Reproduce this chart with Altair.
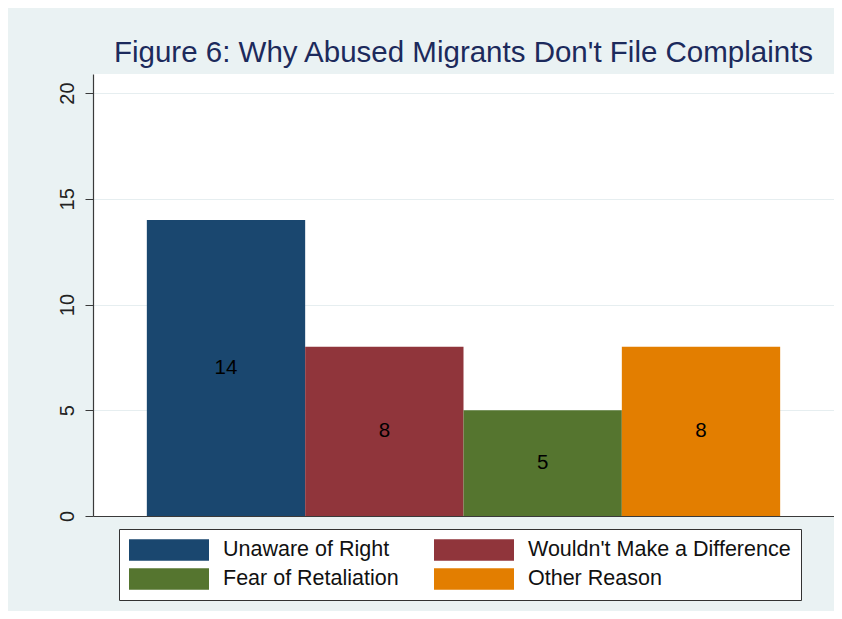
import altair as alt
import pandas as pd

categories = ["Unaware of Right", "Wouldn't Make a Difference", "Fear of Retaliation", "Other Reason"]
counts = [14, 8, 5, 8]
colors = ["#1a476f", "#90353b", "#55752f", "#e37e00"]
y_ticks = [0, 5, 10, 15, 20]
title_text = "Figure 6: Why Abused Migrants Don't File Complaints"

df = pd.DataFrame({"category": categories, "count": counts})

FONT = "Liberation Sans"

base = alt.Chart(df).encode(
    x=alt.X(
        "category:N",
        sort=categories,
        scale=alt.Scale(paddingInner=0, paddingOuter=0.34),
        axis=alt.Axis(labels=False, ticks=False, title=None, domainColor="#3a3a3a",
                      domainWidth=1.2, grid=False),
    )
)

bars = base.mark_bar(strokeWidth=0).encode(
    y=alt.Y(
        "count:Q",
        scale=alt.Scale(domain=[0, 20.9], nice=False, zero=True),
        axis=alt.Axis(
            values=y_ticks, title=None, labelAngle=270, labelAlign="center",
            labelBaseline="bottom", labelPadding=8, tickSize=8, tickColor="#3a3a3a",
            domainColor="#3a3a3a", domainWidth=1.2, labelFontSize=20, labelFont=FONT,
            labelColor="#222222", grid=True, gridColor="#e6eef0", gridWidth=1,
        ),
    ),
    color=alt.Color(
        "category:N",
        sort=categories,
        scale=alt.Scale(domain=categories, range=colors),
        legend=alt.Legend(
            orient="none", legendX=26, legendY=455, columns=2, direction="horizontal",
            title=None, symbolType="M-1,-0.269H1V0.269H-1Z", symbolSize=6400,
            symbolStrokeWidth=0, symbolOpacity=1, clipHeight=22,
            labelFont=FONT, labelFontSize=21.5, labelColor="#111111", labelOffset=14,
            labelLimit=500, columnPadding=35, rowPadding=7, padding=10,
            fillColor="white", strokeColor="#333333",
        ),
    ),
)

labels = base.mark_text(fontSize=20.5, font=FONT, color="black", baseline="middle").transform_calculate(
    mid="datum.count / 2"
).encode(
    y=alt.Y("mid:Q"),
    text=alt.Text("count:Q"),
)

chart = alt.layer(bars, labels).properties(
    width=741,
    height=442,
    autosize=alt.AutoSizeParams(type="none"),
    padding={"left": 85, "top": 66, "right": 0, "bottom": 95},
    background="#eaf2f3",
    title=alt.TitleParams(
        title_text, fontSize=29.5, font=FONT, fontWeight="normal", color="#1c2a5c",
        anchor="middle", offset=6,
    ),
).configure_view(fill="white", strokeWidth=0)

chart.save("out.html", embed_options={"renderer": "svg", "actions": False})
